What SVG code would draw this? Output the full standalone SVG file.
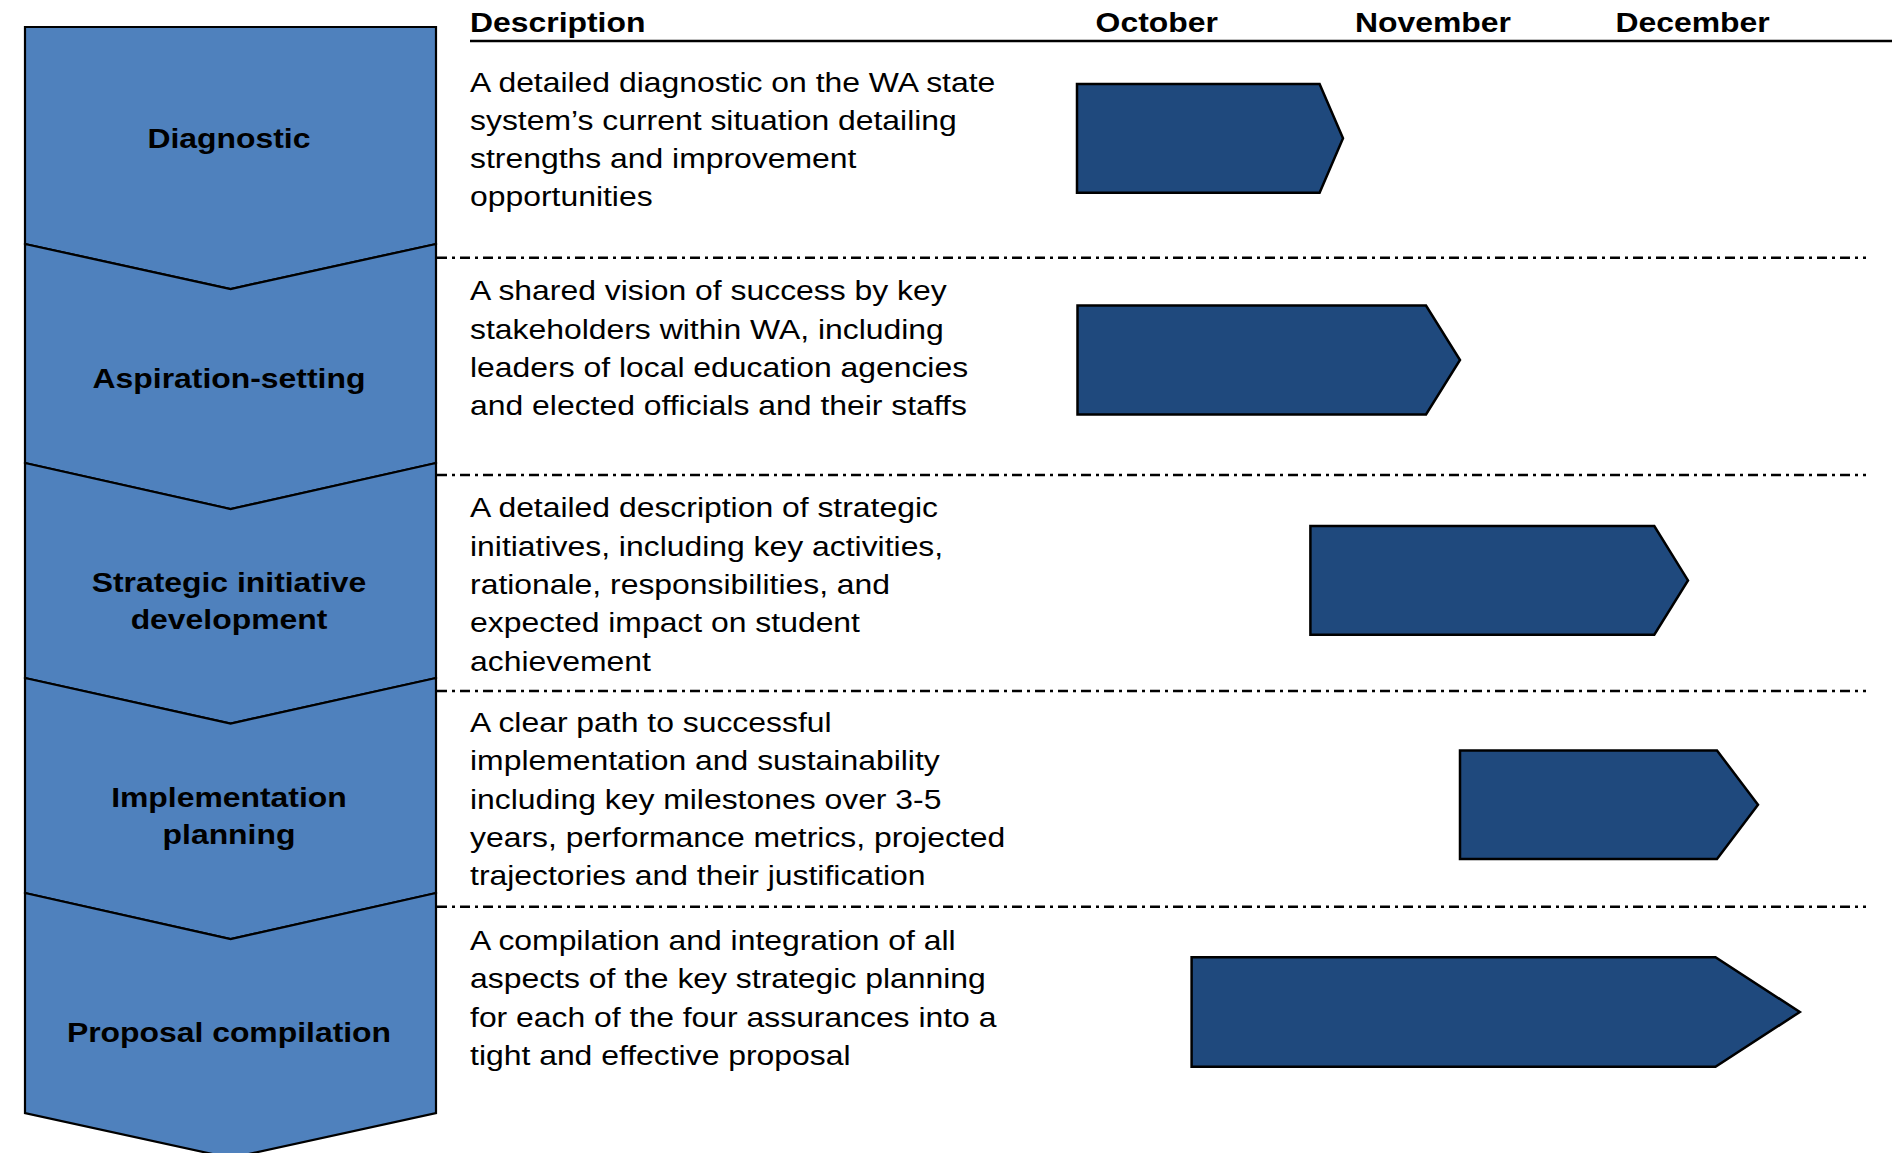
<svg xmlns="http://www.w3.org/2000/svg" width="1892" height="1153" viewBox="0 0 1892 1153">
<style>
  .step { fill: #4F81BD; stroke: #000; stroke-width: 2.2; stroke-linejoin: miter; }
  .bar { fill: #1F497D; stroke: #000; stroke-width: 2.5; stroke-linejoin: miter; }
  .sep { stroke: #000; stroke-width: 2.5; fill: none; stroke-dasharray: 10 5 3 5; }
  .rule { stroke: #000; stroke-width: 2.5; fill: none; }
  .lbl { font-family: "Liberation Sans", Arial, sans-serif; font-size: 27.5px; font-weight: bold; fill: #000; text-anchor: middle; }
  .hdr { font-family: "Liberation Sans", Arial, sans-serif; font-size: 27.5px; font-weight: bold; fill: #000; }
  .txt { font-family: "Liberation Sans", Arial, sans-serif; font-size: 27.5px; fill: #000; }
</style>
<rect width="1892" height="1153" fill="#fff"/>

<g id="headers">
  <line class="rule" x1="470" y1="41" x2="1892" y2="41"/>
  <g transform="scale(1.16 1)">
    <text class="hdr" x="405.2" y="32">Description</text>
    <text class="hdr" x="944.5" y="32">October</text>
    <text class="hdr" x="1168.1" y="32">November</text>
    <text class="hdr" x="1392.7" y="32">December</text>
  </g>
</g>

<g id="separators">
  <line class="sep" x1="437" y1="257.7" x2="1866" y2="257.7"/>
  <line class="sep" x1="437" y1="475" x2="1866" y2="475"/>
  <line class="sep" x1="437" y1="691" x2="1866" y2="691"/>
  <line class="sep" x1="437" y1="906.7" x2="1866" y2="906.7"/>
</g>

<g id="step-1">
  <polygon class="step" points="25,27 436,27 436,244 230.6,289 25,244"/>
  <g transform="scale(1.16 1)"><text class="lbl" x="197.4" y="148">Diagnostic</text></g>
</g>
<g id="step-2">
  <polygon class="step" points="25,244 230.6,289 436,244 436,463 230.6,509 25,463"/>
  <g transform="scale(1.16 1)"><text class="lbl" x="197.4" y="388.5">Aspiration-setting</text></g>
</g>
<g id="step-3">
  <polygon class="step" points="25,463 230.6,509 436,463 436,678 230.6,723.5 25,678"/>
  <g transform="scale(1.16 1)">
    <text class="lbl" x="197.4" y="591.7">Strategic initiative</text>
    <text class="lbl" x="197.4" y="629.3">development</text>
  </g>
</g>
<g id="step-4">
  <polygon class="step" points="25,678 230.6,723.5 436,678 436,893 230.6,939 25,893"/>
  <g transform="scale(1.16 1)">
    <text class="lbl" x="197.4" y="806.7">Implementation</text>
    <text class="lbl" x="197.4" y="844">planning</text>
  </g>
</g>
<g id="step-5">
  <polygon class="step" points="25,893 230.6,939 436,893 436,1113 230.6,1158 25,1113"/>
  <g transform="scale(1.16 1)"><text class="lbl" x="197.4" y="1041.7">Proposal compilation</text></g>
</g>

<g id="desc-1" transform="scale(1.16 1)">
  <text class="txt" x="405.2" y="91.7">A detailed diagnostic on the WA state</text>
  <text class="txt" x="405.2" y="130">system’s current situation detailing</text>
  <text class="txt" x="405.2" y="168.3">strengths and improvement</text>
  <text class="txt" x="405.2" y="206.5">opportunities</text>
</g>
<g id="desc-2" transform="scale(1.16 1)">
  <text class="txt" x="405.2" y="300.5">A shared vision of success by key</text>
  <text class="txt" x="405.2" y="338.8">stakeholders within WA, including</text>
  <text class="txt" x="405.2" y="377.1">leaders of local education agencies</text>
  <text class="txt" x="405.2" y="415.4">and elected officials and their staffs</text>
</g>
<g id="desc-3" transform="scale(1.16 1)">
  <text class="txt" x="405.2" y="517.3">A detailed description of strategic</text>
  <text class="txt" x="405.2" y="555.7">initiatives, including key activities,</text>
  <text class="txt" x="405.2" y="594">rationale, responsibilities, and</text>
  <text class="txt" x="405.2" y="632.3">expected impact on student</text>
  <text class="txt" x="405.2" y="670.7">achievement</text>
</g>
<g id="desc-4" transform="scale(1.16 1)">
  <text class="txt" x="405.2" y="732">A clear path to successful</text>
  <text class="txt" x="405.2" y="770.3">implementation and sustainability</text>
  <text class="txt" x="405.2" y="808.6">including key milestones over 3-5</text>
  <text class="txt" x="405.2" y="846.9">years, performance metrics, projected</text>
  <text class="txt" x="405.2" y="885.2">trajectories and their justification</text>
</g>
<g id="desc-5" transform="scale(1.16 1)">
  <text class="txt" x="405.2" y="950">A compilation and integration of all</text>
  <text class="txt" x="405.2" y="988.3">aspects of the key strategic planning</text>
  <text class="txt" x="405.2" y="1026.7">for each of the four assurances into a</text>
  <text class="txt" x="405.2" y="1065">tight and effective proposal</text>
</g>

<g id="bar-1"><polygon class="bar" points="1077,84 1319.6,84 1343,138.3 1319.6,192.7 1077,192.7"/></g>
<g id="bar-2"><polygon class="bar" points="1077.5,305.5 1426,305.5 1460,360 1426,414.5 1077.5,414.5"/></g>
<g id="bar-3"><polygon class="bar" points="1310.4,526 1654.3,526 1688,580.4 1654.3,634.7 1310.4,634.7"/></g>
<g id="bar-4"><polygon class="bar" points="1460,750.5 1717,750.5 1758,804.8 1717,859 1460,859"/></g>
<g id="bar-5"><polygon class="bar" points="1191.6,957.3 1715.5,957.3 1799.8,1012 1715.5,1066.7 1191.6,1066.7"/></g>
</svg>
